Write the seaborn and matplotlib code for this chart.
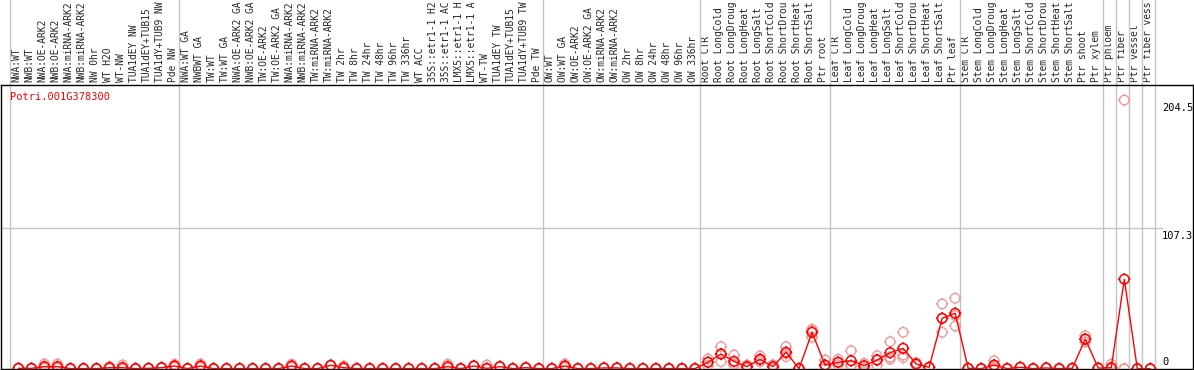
import numpy as np
import pandas as pd
import matplotlib
matplotlib.use("Agg")
import matplotlib.pyplot as plt
from matplotlib.path import Path
import seaborn as sns

# ---------------- data ----------------
group_sizes = [13, 28, 12, 10, 10, 11, 1, 1, 1, 1]

labels = [
    "NWA:WT", "NWB:WT", "NWA:OE-ARK2", "NWB:OE-ARK2", "NWA:miRNA-ARK2", "NWB:miRNA-ARK2",
    "NW 0hr", "WT H2O", "WT-NW", "TUA1dEY NW", "TUA1dEY+TUB15", "TUA1dY+TUB9 NW", "Pde NW",
    "NWA:WT GA", "NWBWT GA", "TW:WT", "TW:WT GA", "NWA:OE-ARK2 GA", "NWB:OE-ARK2 GA",
    "TW:OE-ARK2", "TW:OE-ARK2 GA", "NWA:miRNA-ARK2", "NWB:miRNA-ARK2", "TW:miRNA-ARK2",
    "TW:miRNA-ARK2", "TW 2hr", "TW 8hr", "TW 24hr", "TW 48hr", "TW 96hr", "TW 336hr", "WT ACC",
    "35S::etr1-1 H2", "35S::etr1-1 AC", "LMX5::etr1-1 H", "LMX5::etr1-1 A", "WT-TW",
    "TUA1dEY TW", "TUA1dEY+TUB15", "TUA1dY+TUB9 TW", "Pde TW",
    "OW:WT", "OW:WT GA", "OW:OE-ARK2", "OW:OE-ARK2 GA", "OW:miRNA-ARK2", "OW:miRNA-ARK2",
    "OW 2hr", "OW 8hr", "OW 24hr", "OW 48hr", "OW 96hr", "OW 336hr",
    "Root CTR", "Root LongCold", "Root LongDroug", "Root LongHeat", "Root LongSalt",
    "Root ShortCold", "Root ShortDrou", "Root ShortHeat", "Root ShortSalt", "Ptr root",
    "Leaf CTR", "Leaf LongCold", "Leaf LongDroug", "Leaf LongHeat", "Leaf LongSalt",
    "Leaf ShortCold", "Leaf ShortDrou", "Leaf ShortHeat", "Leaf ShortSalt", "Ptr leaf",
    "Stem CTR", "Stem LongCold", "Stem LongDroug", "Stem LongHeat", "Stem LongSalt",
    "Stem ShortCold", "Stem ShortDrou", "Stem ShortHeat", "Stem ShortSalt", "Ptr shoot",
    "Ptr xylem", "Ptr phloem", "Ptr fiber", "Ptr vessel", "Ptr fiber vess",
]

mean_values = [
    0.5, 0.5, 1.8, 1.8, 0.3, 0.3, 0.3, 1.0, 1.0, 0.3, 0.5, 1.0, 2.3,
    0.3, 2.3, 0.3, 0.3, 0.3, 0.3, 0.3, 0.3, 2.3, 0.3, 0.3, 2.8, 1.0, 0.3, 0.3, 0.3,
    0.3, 0.3, 0.3, 0.3, 1.8, 0.3, 2.3, 0.5, 1.8, 0.3, 1.0, 0.3,
    0.3, 2.3, 0.3, 0.3, 0.8, 0.8, 0.3, 0.3, 0.3, 0.3, 0.3, 0.3,
    5.1, 11.4, 5.8, 1.8, 7.4, 1.8, 12.7, 0.3, 27.9, 3.0,
    5.1, 6.3, 2.5, 6.8, 12.4, 15.7, 3.8, 1.3, 38.6, 42.4,
    0.5, 0.3, 3.0, 0.3, 1.3, 0.3, 0.8, 0.3, 0.5, 22.8, 0.7,
    1.0, 68.3, 0.2, 0.2,
]

rep_a = [
    0.5, 0.5, 3.8, 3.8, 0.3, 0.3, 0.3, 1.8, 3.0, 0.3, 0.5, 1.0, 3.6,
    0.3, 3.8, 0.3, 0.3, 0.3, 0.3, 0.3, 0.3, 3.6, 0.3, 0.3, 2.8, 2.3, 0.3, 0.3, 0.3,
    0.3, 0.3, 0.3, 0.3, 3.6, 0.3, 2.3, 3.0, 1.8, 0.3, 1.0, 0.3,
    0.3, 3.8, 0.3, 0.3, 0.8, 0.8, 0.3, 0.3, 0.3, 0.3, 0.3, 0.3,
    2.5, 17.0, 10.6, 3.0, 9.9, 3.2, 17.0, 0.3, 30.2, 6.8,
    7.4, 13.9, 4.3, 10.1, 20.8, 27.9, 4.8, 1.3, 49.5, 53.8,
    0.5, 0.3, 6.3, 0.3, 1.3, 0.3, 0.8, 0.3, 0.5, 25.3, 0.7,
    3.6, 204.5, 0.2, 0.2,
]

rep_b = [
    0.5, 0.5, 1.0, 1.0, 0.3, 0.3, 0.3, 0.8, 0.0, 0.3, 0.5, 1.0, 2.0,
    0.3, 2.0, 0.3, 0.3, 0.3, 0.3, 0.3, 0.3, 2.0, 0.3, 0.3, 2.8, 0.5, 0.3, 0.3, 0.3,
    0.3, 0.3, 0.3, 0.3, 1.2, 0.3, 2.3, 0.0, 1.8, 0.3, 1.0, 0.3,
    0.3, 2.0, 0.3, 0.3, 0.8, 0.8, 0.3, 0.3, 0.3, 0.3, 0.3, 0.3,
    5.1, 11.4, 3.8, 1.8, 6.8, 1.6, 11.7, 0.3, 29.4, 1.5,
    5.0, 3.0, 2.5, 7.3, 9.0, 10.6, 3.8, 1.3, 38.4, 40.7,
    0.5, 0.3, 1.9, 0.3, 1.3, 0.3, 0.8, 0.3, 0.5, 22.5, 0.7,
    0.3, 0.3, 0.2, 0.2,
]

rep_c = [
    0.5, 0.5, 0.6, 0.6, 0.3, 0.3, 0.3, 0.4, 0.0, 0.3, 0.5, 1.0, 1.3,
    0.3, 1.1, 0.3, 0.3, 0.3, 0.3, 0.3, 0.3, 1.3, 0.3, 0.3, 2.8, 0.2, 0.3, 0.3, 0.3,
    0.3, 0.3, 0.3, 0.3, 0.6, 0.3, 2.3, 0.0, 1.8, 0.3, 1.0, 0.3,
    0.3, 1.1, 0.3, 0.3, 0.8, 0.8, 0.3, 0.3, 0.3, 0.3, 0.3, 0.3,
    7.7, 5.6, 3.0, 0.6, 5.6, 0.6, 9.4, 0.3, 24.1, 0.7,
    3.0, 2.0, 0.7, 3.0, 7.4, 8.6, 2.8, 1.3, 27.9, 32.7,
    0.5, 0.3, 0.8, 0.3, 1.3, 0.3, 0.8, 0.3, 0.5, 20.6, 0.7,
    0.1, 0.1, 0.2, 0.2,
]

gene_name = "Potri.001G378300"
y_tick_values = [0, 107.3, 204.5]
y_tick_texts = ["0", "107.3", "204.5"]

# ---------------- frames ----------------
pos = np.arange(len(labels))
df_mean = pd.DataFrame({"pos": pos, "value": mean_values})
df_rep = pd.DataFrame({
    "pos": np.concatenate([pos, pos, pos]),
    "value": np.concatenate([rep_a, rep_b, rep_c]),
})

# ---------------- style ----------------
sns.set_style("white")
plt.rcParams["font.family"] = ["DejaVu Sans Mono", "DejaVu Sans"]

W, H = 1194, 370
fig = plt.figure(figsize=(W / 100, H / 100), dpi=100)
ax_top_px, ax_bot_px = 85, 369
ax = fig.add_axes([1 / W, (H - ax_bot_px) / H, 1192 / W, (ax_bot_px - ax_top_px) / H])

# marker: round circle with four short outward ticks
ang = np.linspace(0, 2 * np.pi, 49)
circ_v = np.column_stack([np.cos(ang), np.sin(ang)])
circ_c = [Path.MOVETO] + [Path.LINETO] * 47 + [Path.CLOSEPOLY]
tick_v = [(0, 1), (0, 1.3), (0, -1), (0, -1.3), (1, 0), (1.3, 0), (-1, 0), (-1.3, 0)]
tick_c = [Path.MOVETO, Path.LINETO] * 4
mk = Path(np.vstack([circ_v, tick_v]), circ_c + tick_c)

red = "#ff0000"
pink = "#f09a9a"
grey = "#c4c4c4"

sns.scatterplot(data=df_rep, x="pos", y="value", marker=mk, s=78, color=pink,
                ax=ax, legend=False, zorder=3)
coll = ax.collections[-1]
coll.set_facecolor("none")
coll.set_edgecolor(pink)
coll.set_linewidth(1.0)

sns.lineplot(data=df_mean, x="pos", y="value", color=red, lw=1.0, estimator=None,
             ax=ax, legend=False, zorder=4)

sns.scatterplot(data=df_mean, x="pos", y="value", marker=mk, s=78, color=red,
                ax=ax, legend=False, zorder=5)
coll = ax.collections[-1]
coll.set_facecolor("none")
coll.set_edgecolor(red)
coll.set_linewidth(1.1)

# x mapping: 13.01 px per sample, first boundary at pixel 10
spacing = 13.01
off = 0.65
x_left = (1 - 10) / spacing - off
x_right = (1193 - 10) / spacing - off
ax.set_xlim(x_left, x_right)
ax.set_ylim(0, 216)

# group boundaries (vertical grey lines through label area)
bounds = np.concatenate([[0], np.cumsum(group_sizes)])
ext = 1 + ax_top_px / (ax_bot_px - ax_top_px)
for b in bounds:
    ax.axvline(b - off, ymin=0, ymax=ext, color=grey, lw=1.0, clip_on=False, zorder=1)

ax.axhline(107.3, xmin=0, xmax=(1162 - 1) / 1192, color=grey, lw=1.0, zorder=1)

# top tick labels
ax.xaxis.tick_top()
ax.set_xticks(pos - 0.15)
ax.set_xticklabels(labels, rotation=90, fontsize=6.9, family="DejaVu Sans Mono")
ax.tick_params(axis="x", length=0, pad=2)
ax.set_yticks([])
ax.set_xlabel("")
ax.set_ylabel("")

for sp in ax.spines.values():
    sp.set_visible(True)
    sp.set_color("black")
    sp.set_linewidth(1.0)

# right-side value labels (left-aligned in the right margin)
trans = matplotlib.transforms.blended_transform_factory(ax.transAxes, ax.transData)
label_x = (1162 - 1) / 1192
for v, t in zip(y_tick_values, y_tick_texts):
    ax.text(label_x, v + (1.5 if v == 0 else -2.0), t, transform=trans, ha="left",
            va="bottom" if v == 0 else "top", fontsize=7.5, color="black",
            family="DejaVu Sans Mono")

ax.text(9 / 1192, (ax_bot_px - 97) / (ax_bot_px - ax_top_px), gene_name,
        transform=ax.transAxes, ha="left", va="center", fontsize=7.5, color=red,
        family="DejaVu Sans Mono")

fig.savefig("out.png", dpi=100)
